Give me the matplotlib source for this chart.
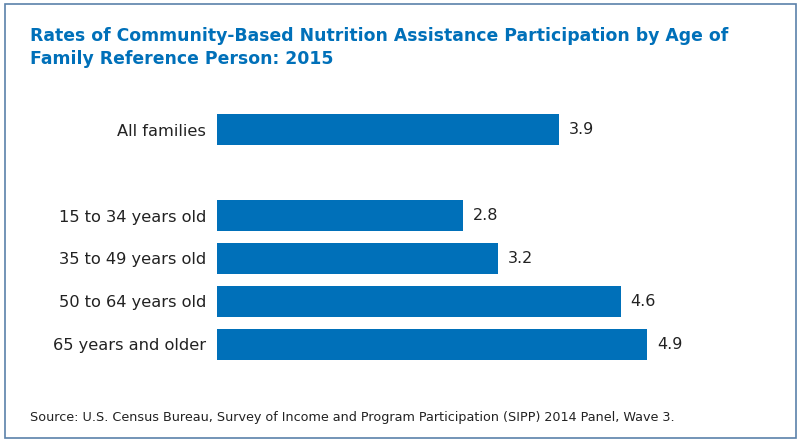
import matplotlib
matplotlib.use("Agg")
import matplotlib.pyplot as plt
from matplotlib.patches import Rectangle

categories = ["All families", "15 to 34 years old", "35 to 49 years old",
              "50 to 64 years old", "65 years and older"]
rates = [3.9, 2.8, 3.2, 4.6, 4.9]
slots = [0, 2, 3, 4, 5]

title = ("Rates of Community-Based Nutrition Assistance Participation by Age of\n"
         "Family Reference Person: 2015")
source = ("Source: U.S. Census Bureau, Survey of Income and Program Participation "
          "(SIPP) 2014 Panel, Wave 3.")

blue = "#0070b9"
W, H = 800, 442
plt.rcParams["font.family"] = ["DejaVu Sans"]

fig = plt.figure(figsize=(W / 100, H / 100), dpi=100)

# frame round the whole graphic
fig.patches.append(Rectangle((5 / W, 4 / H), 791 / W, 434 / H, transform=fig.transFigure,
                             fill=False, edgecolor="#5b82aa", linewidth=1.2))

# axes placed so that x=0 sits at 217 px and 4.9 reaches 647 px
px_per_unit = (647 - 217) / 4.9
ax_left, ax_right = 217, 780
ax_top, ax_bot = 100, 372
ax = fig.add_axes([ax_left / W, 1 - ax_bot / H, (ax_right - ax_left) / W, (ax_bot - ax_top) / H])
ax.set_xlim(0, (ax_right - ax_left) / px_per_unit)
slot_px = 43
ax.set_ylim(5 + (ax_bot - 344) / slot_px, 0 - (130 - ax_top) / slot_px)

ax.barh(slots, rates, height=0.72, color=blue)
for s, r in zip(slots, rates):
    ax.text(r + 10 / px_per_unit, s, f"{r:.1f}", va="center", ha="left",
            fontsize=11.5, color="#222222")

ax.set_yticks(slots)
ax.set_yticklabels(categories, fontsize=11.7, color="#222222")
ax.tick_params(axis="y", length=0, pad=8)
ax.set_xticks([])
for sp in ax.spines.values():
    sp.set_visible(False)

fig.text(30 / W, 1 - 27 / H, title, ha="left", va="top", fontsize=12.4, fontweight="bold",
         color=blue, linespacing=1.35)
fig.text(30 / W, 1 - 418 / H, source, ha="left", va="center", fontsize=9.2, color="#222222")

fig.savefig("out.png", dpi=100)
